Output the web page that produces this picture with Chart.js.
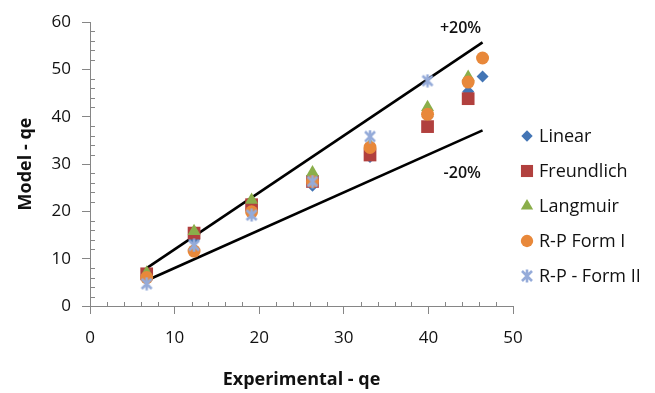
<!DOCTYPE html>
<html>
<head>
<meta charset="utf-8">
<script src="https://cdn.jsdelivr.net/npm/chart.js@4/dist/chart.umd.min.js"></script>
<style>
  html, body { margin: 0; padding: 0; background: #fff; }
  #wrap { width: 655px; height: 393px; }
</style>
</head>
<body>
<div id="wrap"><canvas id="chart" width="655" height="393"></canvas></div>
<script>
var linearX = [6.7, 12.3, 19.1, 26.3, 33.1, 39.9, 44.7, 46.4];
var linearY = [6.5, 14.0, 20.5, 25.4, 31.5, 40.0, 45.3, 48.5];
var freundX = [6.7, 12.3, 19.1, 26.3, 33.1, 39.9, 44.7];
var freundY = [6.8, 15.4, 21.4, 26.3, 31.9, 37.9, 43.8];
var langX = [6.7, 12.3, 19.1, 26.3, 33.1, 39.9, 44.7];
var langY = [7.0, 15.8, 22.4, 28.2, 34.0, 42.0, 48.4];
var rp1X = [6.7, 12.3, 19.1, 26.3, 33.1, 39.9, 44.7, 46.4];
var rp1Y = [6.0, 11.6, 19.9, 26.3, 33.5, 40.5, 47.3, 52.4];
var rp2X = [6.7, 12.3, 19.1, 26.3, 33.1, 39.9];
var rp2Y = [4.7, 12.8, 19.2, 26.3, 35.8, 47.6];
// +20% / -20% band
var bandX = [6.7, 46.4];
var upperY = [8.0, 55.7];
var lowerY = [5.4, 37.1];

var seriesNames = ["Linear", "Freundlich", "Langmuir", "R-P Form I", "R-P - Form II"];
var xTicks = [0, 10, 20, 30, 40, 50];
var yTicks = [0, 10, 20, 30, 40, 50, 60];

function pts(xs, ys) {
  return xs.map(function(x, i) { return {x: x, y: ys[i]}; });
}

// excel style star marker (X with a vertical bar)
var star = document.createElement('canvas');
star.width = 14; star.height = 14;
(function() {
  var c = star.getContext('2d');
  c.strokeStyle = '#95abd9';
  c.lineWidth = 2.6;
  c.lineCap = 'butt';
  c.beginPath();
  c.moveTo(2, 2); c.lineTo(12, 12);
  c.moveTo(12, 2); c.lineTo(2, 12);
  c.moveTo(7, 0.5); c.lineTo(7, 13.5);
  c.stroke();
})();

var axisGrey = '#868686';
var textCol = '#111';
var fontFam = '"Open Sans", sans-serif';

var markers = [
  {style: 'rectRot', radius: 6, color: '#4375b5'},
  {style: 'rect', radius: 9, color: '#b1403e'},
  {style: 'triangle', radius: 7.5, color: '#8aae4a'},
  {style: 'circle', radius: 6.5, color: '#e8883a'},
  {style: star, radius: 7, color: '#95abd9'}
];
var seriesData = [pts(linearX, linearY), pts(freundX, freundY), pts(langX, langY), pts(rp1X, rp1Y), pts(rp2X, rp2Y)];

var datasets = seriesNames.map(function(name, i) {
  var m = markers[i];
  return {
    label: name,
    data: seriesData[i],
    pointStyle: m.style,
    pointRadius: m.radius,
    pointHoverRadius: m.radius,
    backgroundColor: m.color,
    borderColor: m.color,
    pointBorderWidth: 0,
    showLine: false,
    order: 5 - i
  };
});
datasets.push({
  label: '+20%', data: pts(bandX, upperY), showLine: true, pointRadius: 0,
  borderColor: '#000', borderWidth: 2.6, order: 10
});
datasets.push({
  label: '-20%', data: pts(bandX, lowerY), showLine: true, pointRadius: 0,
  borderColor: '#000', borderWidth: 2.6, order: 10
});

var extras = {
  id: 'extras',
  afterDraw: function(chart) {
    var ctx = chart.ctx;
    var xs = chart.scales.x, ys = chart.scales.y;
    var x0 = xs.getPixelForValue(0), y0 = ys.getPixelForValue(0);
    ctx.save();
    // minor ticks, inside the plot
    ctx.strokeStyle = axisGrey;
    ctx.lineWidth = 1;
    ctx.beginPath();
    for (var v = 2; v < 50; v += 2) {
      if (v % 10 === 0) continue;
      var px = Math.round(xs.getPixelForValue(v)) + 0.5;
      ctx.moveTo(px, y0); ctx.lineTo(px, y0 - 4);
    }
    for (var w = 2; w < 60; w += 2) {
      if (w % 10 === 0) continue;
      var py = Math.round(ys.getPixelForValue(w)) + 0.5;
      ctx.moveTo(x0, py); ctx.lineTo(x0 + 5, py);
    }
    ctx.stroke();

    // band labels
    ctx.fillStyle = textCol;
    ctx.font = '600 16px ' + fontFam;
    ctx.textAlign = 'center';
    ctx.textBaseline = 'middle';
    ctx.fillText('+20%', xs.getPixelForValue(43.8), ys.getPixelForValue(58.6));
    ctx.fillText('-20%', xs.getPixelForValue(44.0), ys.getPixelForValue(28.0));

    // legend
    ctx.font = '18px ' + fontFam;
    ctx.textAlign = 'left';
    for (var i = 0; i < seriesNames.length; i++) {
      var ly = 136 + 35 * i;
      var m = markers[i];
      ctx.fillStyle = m.color;
      ctx.strokeStyle = m.color;
      Chart.helpers.drawPoint(ctx, {pointStyle: m.style, radius: m.radius * 0.95, borderWidth: 0}, 527, ly);
      ctx.fillStyle = textCol;
      ctx.fillText(seriesNames[i], 539, ly + 1);
    }
    ctx.restore();
  }
};

new Chart(document.getElementById('chart'), {
  type: 'scatter',
  data: {datasets: datasets},
  options: {
    responsive: false,
    animation: false,
    events: [],
    layout: {padding: {left: 0, top: 22, right: 142, bottom: 0}},
    plugins: {legend: {display: false}, tooltip: {enabled: false}},
    scales: {
      x: {
        type: 'linear', min: 0, max: 50,
        afterBuildTicks: function(s) { s.ticks = xTicks.map(function(v) { return {value: v}; }); },
        afterFit: function(s) { s.height = 87; },
        border: {color: axisGrey, width: 1},
        grid: {drawOnChartArea: false, drawTicks: true, tickLength: 8, color: axisGrey},
        ticks: {color: textCol, font: {family: fontFam, size: 17}, padding: 14, maxRotation: 0},
        title: {display: true, text: 'Experimental - qe', color: textCol,
                font: {family: fontFam, size: 18, weight: 'bold'}, padding: {top: 0, bottom: 2}}
      },
      y: {
        type: 'linear', min: 0, max: 60,
        afterBuildTicks: function(s) { s.ticks = yTicks.map(function(v) { return {value: v}; }); },
        afterFit: function(s) { s.width = 90; },
        border: {color: axisGrey, width: 1},
        grid: {drawOnChartArea: false, drawTicks: true, tickLength: 8, color: axisGrey},
        ticks: {color: textCol, font: {family: fontFam, size: 17}, padding: 11},
        title: {display: true, text: 'Model - qe', color: textCol,
                font: {family: fontFam, size: 18, weight: 'bold'}, padding: {top: 15, bottom: 0}}
      }
    }
  },
  plugins: [extras]
});
</script>
</body>
</html>
